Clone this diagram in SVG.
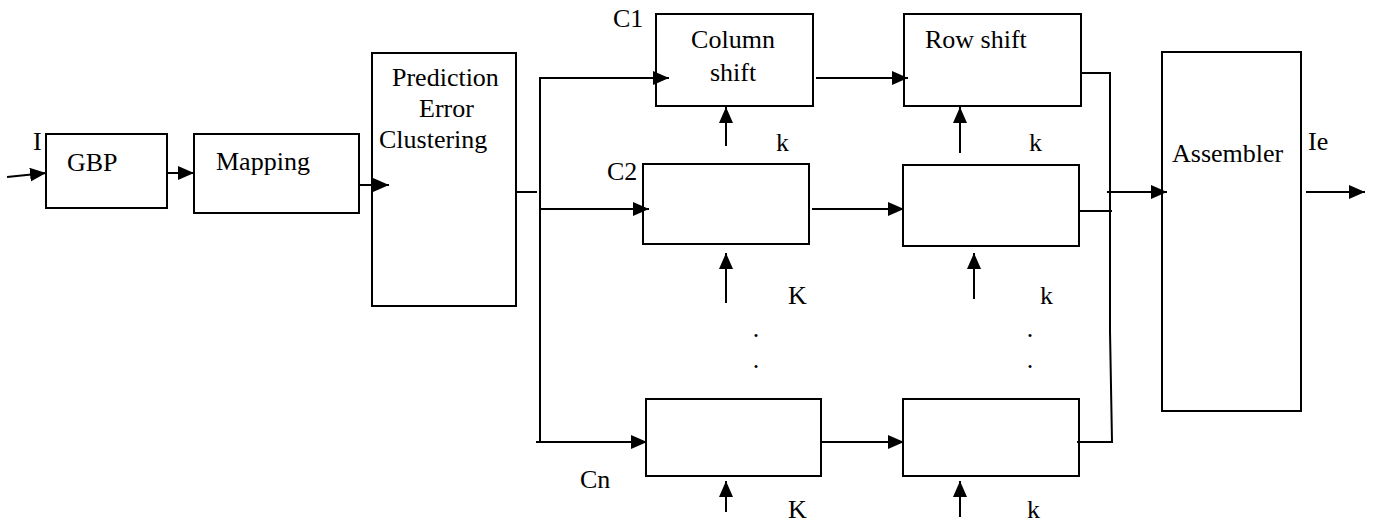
<svg xmlns="http://www.w3.org/2000/svg" width="1374" height="523" viewBox="0 0 1374 523" font-family="'Liberation Serif', 'Times New Roman', Times, serif" font-size="26">
<style>
.box{fill:#fff;stroke:#000;stroke-width:2}
.ln{fill:none;stroke:#000;stroke-width:2}
.ar{fill:none;stroke:#000;stroke-width:2;marker-end:url(#ah)}
text{font-family:'Liberation Serif','Times New Roman',Times,serif;font-size:26px;fill:#000}
.m{text-anchor:middle}
</style>
<defs>
<marker id="ah" markerUnits="userSpaceOnUse" markerWidth="16" markerHeight="14" refX="16" refY="7" orient="auto">
<path d="M0,0 L16,7 L0,14 z" fill="#000"/>
</marker>
</defs>
<rect width="1374" height="523" fill="#fff"/>
<g id="gbp"><rect class="box" x="46" y="134" width="121" height="74"/><text x="67" y="171">GBP</text></g>
<g id="mapping"><rect class="box" x="194" y="134" width="165" height="79"/><text x="216" y="170">Mapping</text></g>
<g id="pec"><rect class="box" x="372" y="53" width="144" height="253"/>
<text x="392" y="86">Prediction</text><text x="419" y="117">Error</text><text x="379" y="148">Clustering</text></g>
<g id="c1"><rect class="box" x="656" y="14" width="157" height="92"/><text class="m" x="733" y="48">Column</text><text class="m" x="733" y="81">shift</text></g>
<g id="c2"><rect class="box" x="643" y="164" width="166" height="80"/></g>
<g id="cn"><rect class="box" x="646" y="399" width="175" height="77"/></g>
<g id="r1"><rect class="box" x="904" y="14" width="177" height="92"/><text x="925" y="48">Row shift</text></g>
<g id="r2"><rect class="box" x="903" y="165" width="176" height="81"/></g>
<g id="rn"><rect class="box" x="903" y="399" width="176" height="77"/></g>
<g id="assembler"><rect class="box" x="1162" y="52" width="139" height="359"/><text x="1172" y="162">Assembler</text></g>
<g id="labels">
<text x="33" y="150">I</text>
<text x="613" y="27">C1</text>
<text x="607" y="180">C2</text>
<text x="580" y="488">Cn</text>
<text x="776" y="151">k</text>
<text x="1029" y="151">k</text>
<text x="788" y="304">K</text>
<text x="1040" y="304">k</text>
<text x="788" y="518">K</text>
<text x="1027" y="518">k</text>
<text class="m" x="756" y="337">.</text>
<text class="m" x="756" y="368">.</text>
<text class="m" x="1030" y="337">.</text>
<text class="m" x="1030" y="368">.</text>
<text x="1308" y="150">Ie</text>
</g>
<g id="connectors">
<line class="ar" x1="7" y1="177" x2="46" y2="173"/>
<line class="ar" x1="167" y1="173" x2="194" y2="173"/>
<line class="ar" x1="359" y1="185" x2="389" y2="185"/>
<line class="ln" x1="516" y1="192" x2="537" y2="192"/>
<polyline class="ln" points="669,78 540,78 540,442 556,442"/>
<line class="ar" x1="540" y1="78" x2="669" y2="78"/>
<line class="ar" x1="540" y1="209" x2="649" y2="209"/>
<line class="ar" x1="536" y1="442" x2="647" y2="442"/>
<line class="ar" x1="816" y1="78" x2="908" y2="78"/>
<line class="ar" x1="812" y1="209" x2="904" y2="209"/>
<line class="ar" x1="821" y1="442" x2="904" y2="442"/>
<line class="ar" x1="726" y1="146" x2="726" y2="107"/>
<line class="ar" x1="726" y1="303" x2="726" y2="253"/>
<line class="ar" x1="726" y1="512" x2="726" y2="481"/>
<line class="ar" x1="960" y1="153" x2="960" y2="107"/>
<line class="ar" x1="974" y1="299" x2="974" y2="253"/>
<line class="ar" x1="960" y1="517" x2="960" y2="481"/>
<polyline class="ln" points="1081,73 1110,73 1110,331 1112,442 1077,442"/>
<line class="ln" x1="1079" y1="211" x2="1112" y2="211"/>
<line class="ar" x1="1107" y1="192" x2="1167" y2="192"/>
<line class="ar" x1="1306" y1="192" x2="1365" y2="192"/>
</g>
</svg>
